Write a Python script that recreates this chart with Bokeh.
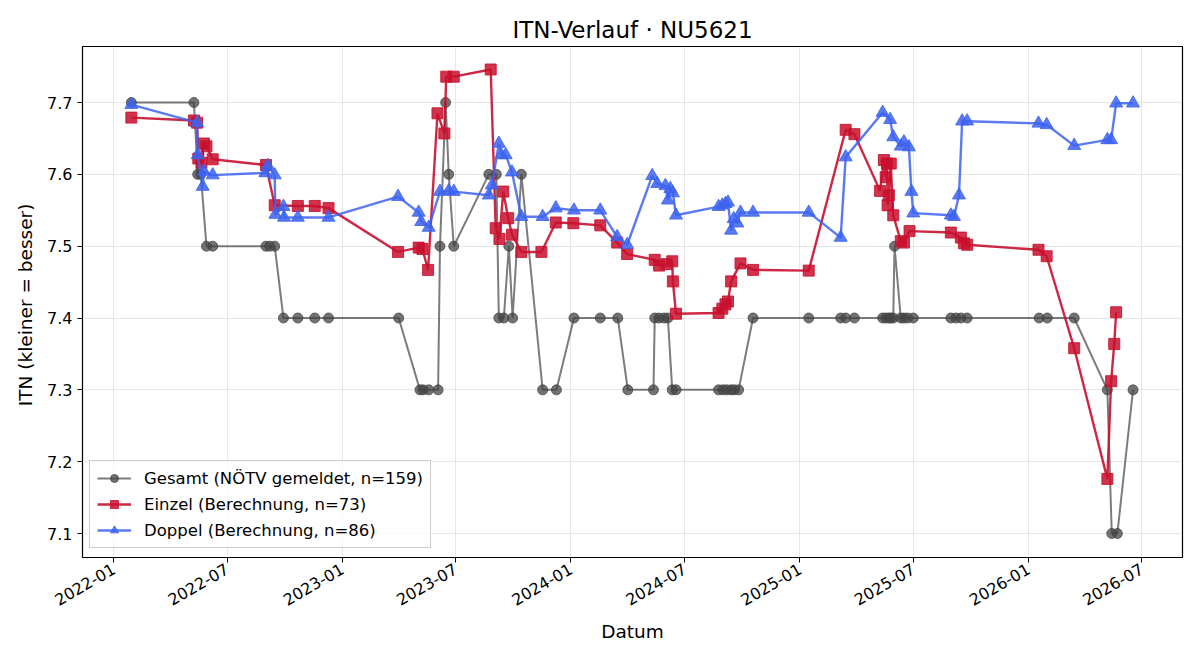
import math
import pandas as pd
from bokeh.plotting import figure
from bokeh.models import ColumnDataSource, FixedTicker, DatetimeTickFormatter, Legend, LegendItem, Range1d
from bokeh.embed import file_html
from bokeh.resources import INLINE

# --- Gesamt (NÖTV gemeldet) ---
gesamt_dates = [
    "2022-01-29", "2022-05-09", "2022-05-15", "2022-05-20", "2022-05-29", "2022-06-08",
    "2022-09-01", "2022-09-07", "2022-09-15", "2022-09-29", "2022-10-22", "2022-11-18",
    "2022-12-10", "2023-04-01", "2023-05-05", "2023-05-10", "2023-05-19", "2023-06-03",
    "2023-06-06", "2023-06-15", "2023-06-20", "2023-06-28", "2023-08-23", "2023-09-04",
    "2023-09-08", "2023-09-16", "2023-09-24", "2023-09-30", "2023-10-14", "2023-11-17",
    "2023-12-09", "2024-01-06", "2024-02-17", "2024-03-16", "2024-04-01", "2024-05-12",
    "2024-05-14", "2024-05-21", "2024-05-29", "2024-06-04", "2024-06-11", "2024-06-17",
    "2024-08-24", "2024-08-31", "2024-09-06", "2024-09-13", "2024-09-18", "2024-09-25",
    "2024-10-18", "2025-01-15", "2025-03-07", "2025-03-15", "2025-03-29", "2025-05-13",
    "2025-05-18", "2025-05-23", "2025-05-26", "2025-05-30", "2025-06-01", "2025-06-11",
    "2025-06-16", "2025-06-22", "2025-07-01", "2025-08-30", "2025-09-07", "2025-09-15",
    "2025-09-25", "2026-01-18", "2026-01-31", "2026-03-15", "2026-05-07", "2026-05-14",
    "2026-05-23", "2026-06-17",
]
gesamt_itn = [
    7.7, 7.7, 7.6, 7.6, 7.5, 7.5,
    7.5, 7.5, 7.5, 7.4, 7.4, 7.4,
    7.4, 7.4, 7.3, 7.3, 7.3, 7.3,
    7.5, 7.7, 7.6, 7.5, 7.6, 7.6,
    7.4, 7.4, 7.5, 7.4, 7.6, 7.3,
    7.3, 7.4, 7.4, 7.4, 7.3, 7.3,
    7.4, 7.4, 7.4, 7.4, 7.3, 7.3,
    7.3, 7.3, 7.3, 7.3, 7.3, 7.3,
    7.4, 7.4, 7.4, 7.4, 7.4, 7.4,
    7.4, 7.4, 7.4, 7.4, 7.5, 7.4,
    7.4, 7.4, 7.4, 7.4, 7.4, 7.4,
    7.4, 7.4, 7.4, 7.4, 7.3, 7.1,
    7.1, 7.3,
]

# --- Einzel (Berechnung) ---
einzel_dates = [
    "2022-01-29", "2022-05-09", "2022-05-14", "2022-05-16", "2022-05-21", "2022-05-25",
    "2022-05-29", "2022-06-08", "2022-09-01", "2022-09-15", "2022-10-22", "2022-11-18",
    "2022-12-10", "2023-03-31", "2023-05-03", "2023-05-09", "2023-05-18", "2023-06-02",
    "2023-06-13", "2023-06-16", "2023-06-28", "2023-08-26", "2023-09-03", "2023-09-09",
    "2023-09-15", "2023-09-23", "2023-09-29", "2023-10-14", "2023-11-15", "2023-12-08",
    "2024-01-05", "2024-02-17", "2024-03-15", "2024-03-31", "2024-05-14", "2024-05-21",
    "2024-06-02", "2024-06-11", "2024-06-12", "2024-06-17", "2024-08-24", "2024-08-30",
    "2024-09-04", "2024-09-08", "2024-09-13", "2024-09-28", "2024-10-18", "2025-01-15",
    "2025-03-15", "2025-03-29", "2025-05-09", "2025-05-15", "2025-05-18", "2025-05-20",
    "2025-05-21", "2025-05-23", "2025-05-26", "2025-05-30", "2025-06-11", "2025-06-16",
    "2025-06-25", "2025-08-30", "2025-09-15", "2025-09-20", "2025-09-25", "2026-01-17",
    "2026-01-30", "2026-03-15", "2026-05-07", "2026-05-13", "2026-05-18", "2026-05-21",
]
einzel_itn = [
    7.679, 7.675, 7.672, 7.622, 7.616, 7.643,
    7.639, 7.621, 7.613, 7.557, 7.556, 7.556,
    7.553, 7.492, 7.498, 7.496, 7.467, 7.685,
    7.657, 7.736, 7.736, 7.746, 7.525, 7.510,
    7.576, 7.539, 7.516, 7.492, 7.492, 7.533,
    7.532, 7.529, 7.505, 7.489, 7.481, 7.473,
    7.475, 7.479, 7.451, 7.406, 7.407, 7.413,
    7.419, 7.423, 7.451, 7.476, 7.467, 7.466,
    7.662, 7.656, 7.577, 7.620, 7.596, 7.615,
    7.557, 7.571, 7.615, 7.543, 7.507, 7.505,
    7.521, 7.519, 7.512, 7.504, 7.502, 7.495,
    7.486, 7.358, 7.176, 7.312, 7.364, 7.408,
]

# --- Doppel (Berechnung) ---
doppel_dates = [
    "2022-01-29", "2022-05-14", "2022-05-15", "2022-05-23", "2022-05-25", "2022-06-08",
    "2022-08-31", "2022-09-04", "2022-09-15", "2022-09-16", "2022-09-29", "2022-09-30",
    "2022-10-22", "2022-12-10", "2023-03-31", "2023-05-03", "2023-05-07", "2023-05-19",
    "2023-06-06", "2023-06-20", "2023-06-28", "2023-08-23", "2023-08-28", "2023-09-08",
    "2023-09-12", "2023-09-19", "2023-09-29", "2023-10-14", "2023-11-17", "2023-12-08",
    "2024-01-06", "2024-02-17", "2024-03-15", "2024-03-31", "2024-05-10", "2024-05-18",
    "2024-05-31", "2024-06-04", "2024-06-08", "2024-06-12", "2024-06-17", "2024-08-24",
    "2024-08-30", "2024-09-04", "2024-09-08", "2024-09-13", "2024-09-17", "2024-09-23",
    "2024-09-28", "2024-10-18", "2025-01-15", "2025-03-07", "2025-03-15", "2025-05-13",
    "2025-05-25", "2025-05-30", "2025-06-11", "2025-06-16", "2025-06-24", "2025-06-28",
    "2025-07-01", "2025-08-30", "2025-09-04", "2025-09-12", "2025-09-17", "2025-09-25",
    "2026-01-17", "2026-01-30", "2026-03-15", "2026-05-07", "2026-05-13", "2026-05-21",
    "2026-06-17",
]
doppel_itn = [
    7.697, 7.672, 7.627, 7.583, 7.604, 7.599,
    7.602, 7.612, 7.599, 7.544, 7.555, 7.540,
    7.540, 7.540, 7.569, 7.547, 7.534, 7.526,
    7.576, 7.577, 7.576, 7.571, 7.585, 7.643,
    7.627, 7.627, 7.603, 7.541, 7.541, 7.553,
    7.550, 7.550, 7.513, 7.502, 7.598, 7.587,
    7.584, 7.564, 7.580, 7.574, 7.543, 7.555,
    7.557, 7.559, 7.561, 7.522, 7.538, 7.532,
    7.547, 7.547, 7.547, 7.512, 7.624, 7.686,
    7.676, 7.652, 7.639, 7.645, 7.638, 7.576,
    7.546, 7.543, 7.541, 7.571, 7.674, 7.674,
    7.671, 7.669, 7.640, 7.648, 7.648, 7.699,
    7.699,
]

tick_months = ["2022-01", "2022-07", "2023-01", "2023-07", "2024-01", "2024-07",
               "2025-01", "2025-07", "2026-01", "2026-07"]
y_ticks = [7.1, 7.2, 7.3, 7.4, 7.5, 7.6, 7.7]

labels = ["Gesamt (NÖTV gemeldet, n=159)", "Einzel (Berechnung, n=73)", "Doppel (Berechnung, n=86)"]

FONT = "DejaVu Sans"


def ms(d):
    return pd.Timestamp(d).value / 1e6


p = figure(
    width=1200, height=660, x_axis_type="datetime",
    output_backend="svg", toolbar_location=None,
    x_range=Range1d(ms("2021-11-12"), ms("2026-09-04")),
    y_range=Range1d(7.0666, 7.778),
    min_border_left=82, min_border_right=18, min_border_top=46, min_border_bottom=103,
)
p.title.text = "ITN-Verlauf · NU5621"
p.title.align = "center"
p.title.text_font = FONT
p.title.text_font_size = "23px"
p.title.text_font_style = "normal"
p.title.text_color = "#000000"
p.title.standoff = 8

p.outline_line_color = "#000000"
p.outline_line_width = 1.2
p.outline_line_alpha = 1.0

for ax in (p.xaxis[0], p.yaxis[0]):
    ax.axis_line_color = None
    ax.major_tick_line_color = "#000000"
    ax.major_tick_out = 5
    ax.major_tick_in = 0
    ax.minor_tick_line_color = None
    ax.major_label_text_font = FONT
    ax.major_label_text_font_size = "16px"
    ax.major_label_text_color = "#000000"
    ax.axis_label_text_font = FONT
    ax.axis_label_text_font_size = "18.5px"
    ax.axis_label_text_font_style = "normal"
    ax.axis_label_text_color = "#000000"

p.xaxis.ticker = FixedTicker(ticks=[ms(m + "-01") for m in tick_months])
p.xaxis.formatter = DatetimeTickFormatter(days="%Y-%m", months="%Y-%m", years="%Y-%m")
p.xaxis.major_label_orientation = math.pi / 6
p.xaxis.axis_label = "Datum"
p.xaxis.axis_label_standoff = 7
p.yaxis.ticker = FixedTicker(ticks=y_ticks)
p.yaxis.axis_label = "ITN  (kleiner = besser)"
p.yaxis.axis_label_standoff = 8

p.xgrid.grid_line_color = "#b0b0b0"
p.ygrid.grid_line_color = "#b0b0b0"
p.xgrid.grid_line_alpha = 0.3
p.ygrid.grid_line_alpha = 0.3

src_g = ColumnDataSource(dict(x=pd.to_datetime(gesamt_dates), y=gesamt_itn))
src_e = ColumnDataSource(dict(x=pd.to_datetime(einzel_dates), y=einzel_itn))
src_d = ColumnDataSource(dict(x=pd.to_datetime(doppel_dates), y=doppel_itn))

gl = p.line("x", "y", source=src_g, line_color="#444444", line_alpha=0.7, line_width=2)
gm = p.scatter("x", "y", source=src_g, marker="circle", size=10,
               fill_color="#444444", fill_alpha=0.75, line_color="#444444", line_alpha=0.75)

el = p.line("x", "y", source=src_e, line_color="#c8102e", line_alpha=0.9, line_width=2.4)
em = p.scatter("x", "y", source=src_e, marker="square", size=11,
               fill_color="#c8102e", fill_alpha=0.85, line_color="#c8102e", line_alpha=0.85)

dl = p.line("x", "y", source=src_d, line_color="#3d63f0", line_alpha=0.85, line_width=2.4)
dm = p.scatter("x", "y", source=src_d, marker="triangle", size=13,
               fill_color="#3d63f0", fill_alpha=0.85, line_color="#3d63f0", line_alpha=0.85)

legend = Legend(
    items=[LegendItem(label=labels[0], renderers=[gl, gm]),
           LegendItem(label=labels[1], renderers=[el, em]),
           LegendItem(label=labels[2], renderers=[dl, dm])],
    location=(7, 9),
    label_text_font=FONT, label_text_font_size="16.5px", label_text_color="#000000",
    glyph_width=34, glyph_height=20, spacing=6, padding=7, margin=0,
    label_standoff=13,
    border_line_color="#cccccc", border_line_width=1, border_line_alpha=1.0,
    background_fill_color="#ffffff", background_fill_alpha=0.8,
)
p.add_layout(legend, "center")

open("out.html", "w").write(file_html(p, INLINE))
